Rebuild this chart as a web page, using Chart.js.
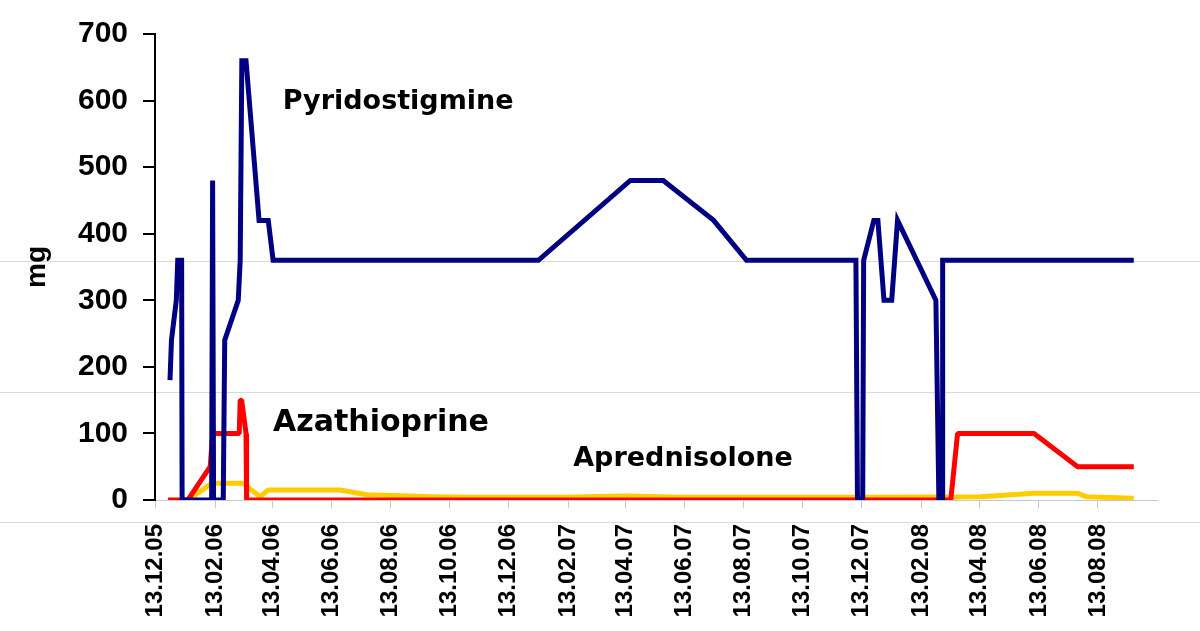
<!DOCTYPE html>
<html>
<head>
<meta charset="utf-8">
<title>Dose chart</title>
<script src="https://cdn.jsdelivr.net/npm/chart.js@4.4.0/dist/chart.umd.min.js"></script>
<style>
    body { margin: 0; background: #ffffff; }
    #wrap { width: 1200px; height: 631px; position: relative; }
</style>
</head>
<body>
<div id="wrap"><canvas id="doseChart"></canvas></div>
<script>
// all x values are days counted from the first date (13.12.05)
var startDate = '13.12.05';
var endDate = '13.10.08';
var tickLabels = ['13.12.05', '13.02.06', '13.04.06', '13.06.06', '13.08.06', '13.10.06',
    '13.12.06', '13.02.07', '13.04.07', '13.06.07', '13.08.07', '13.10.07', '13.12.07',
    '13.02.08', '13.04.08', '13.06.08', '13.08.08'];

var pyridostigmineDays = [15.5, 17, 22, 23.5, 27.5, 28, 58.5, 59.5, 60.5, 70.5, 72, 86, 88, 89.7, 94,
    107.5, 117, 122, 396, 491, 525, 577, 611, 724, 725.6, 731, 732, 742.5, 746.7, 753, 761, 767,
    806.6, 809.7, 813, 813.6, 1011];
var pyridostigmineMg = [180, 240, 300, 360, 360, 0, 0, 480, 0, 0, 240, 300, 360, 660, 660,
    420, 420, 360, 360, 480, 480, 420, 360, 360, 0, 0, 360, 420, 420, 300, 300, 420,
    300, 0, 0, 360, 360];

var azathioprineDays = [13.5, 34, 57, 59.7, 87, 88, 89.5, 94, 94.6, 822, 829, 908, 953, 1011];
var azathioprineMg = [0, 0, 50, 100, 100, 150, 150, 100, 0, 0, 100, 100, 50, 50];

var aprednisoloneDays = [34, 58.6, 91, 108.6, 117, 191, 219, 287, 326, 419, 488, 543, 729, 853,
    908, 953, 962, 1011];
var aprednisoloneMg = [0, 25, 25, 5, 15, 15, 8, 5, 4, 4, 6, 4, 4, 5, 10, 10, 5, 2.5];

/*
 * Turn a dd.mm.yy string into days since startDate
 */
function dayOf(s) {
    var p = s.split('.');
    var s0 = startDate.split('.');
    var d = Date.UTC(2000 + Number(p[2]), Number(p[1]) - 1, Number(p[0]));
    var d0 = Date.UTC(2000 + Number(s0[2]), Number(s0[1]) - 1, Number(s0[0]));
    return Math.round((d - d0) / 86400000);
}

function toPoints(days, values) {
    var pts = [];
    for (var i = 0; i < days.length; i++) {
        pts.push({ x: days[i], y: values[i] });
    }
    return pts;
}

var tickDays = tickLabels.map(dayOf);

// names written inside the plot, placed in data units
var seriesNotes = [
    { text: 'Pyridostigmine', day: 132, mg: 598, size: 27 },
    { text: 'Azathioprine', day: 122, mg: 116, size: 30 },
    { text: 'Aprednisolone', day: 432, mg: 62, size: 27 }
];

var notesPlugin = {
    id: 'notes',
    beforeDraw: function(chart) {
        // faint scan lines that run across the original picture
        var ctx = chart.ctx;
        ctx.save();
        ctx.strokeStyle = '#d9d9d9';
        ctx.lineWidth = 1;
        [261.5, 392.5, 522.5].forEach(function(y) {
            ctx.beginPath();
            ctx.moveTo(0, y);
            ctx.lineTo(chart.width, y);
            ctx.stroke();
        });
        ctx.restore();
    },
    afterDatasetsDraw: function(chart) {
        var ctx = chart.ctx;
        var xs = chart.scales.x;
        var ys = chart.scales.y;
        ctx.save();
        ctx.fillStyle = '#000000';
        ctx.textAlign = 'left';
        ctx.textBaseline = 'middle';
        seriesNotes.forEach(function(n) {
            ctx.font = 'bold ' + n.size + 'px "DejaVu Sans", Verdana, sans-serif';
            ctx.fillText(n.text, xs.getPixelForValue(n.day), ys.getPixelForValue(n.mg));
        });
        ctx.restore();
    }
};

var ctx = document.getElementById('doseChart').getContext('2d');
var chart = new Chart(ctx, {
    type: 'line',
    data: {
        datasets: [{
            label: 'Pyridostigmine',
            data: toPoints(pyridostigmineDays, pyridostigmineMg),
            borderColor: '#000080',
            borderWidth: 5,
            borderJoinStyle: 'miter',
            order: 1
        }, {
            label: 'Azathioprine',
            data: toPoints(azathioprineDays, azathioprineMg),
            borderColor: '#ff0000',
            borderWidth: 5,
            borderJoinStyle: 'bevel',
            order: 2
        }, {
            label: 'Aprednisolone',
            data: toPoints(aprednisoloneDays, aprednisoloneMg),
            borderColor: '#ffcc00',
            borderWidth: 5,
            borderJoinStyle: 'round',
            order: 3
        }]
    },
    options: {
        responsive: true,
        maintainAspectRatio: false,
        animation: false,
        elements: {
            point: { radius: 0 },
            line: { tension: 0, fill: false }
        },
        layout: {
            padding: { top: 34, right: 43, bottom: 0, left: 0 }
        },
        plugins: {
            legend: { display: false },
            tooltip: { enabled: false }
        },
        scales: {
            x: {
                type: 'linear',
                min: 0,
                max: dayOf(endDate),
                afterFit: function(scale) { scale.height = 131; },
                afterBuildTicks: function(scale) {
                    scale.ticks = tickDays.map(function(d) { return { value: d }; });
                },
                border: { color: '#c8c8c8', width: 1 },
                grid: {
                    drawOnChartArea: false,
                    drawTicks: true,
                    tickLength: 8,
                    color: '#c8c8c8'
                },
                ticks: {
                    autoSkip: false,
                    minRotation: 90,
                    maxRotation: 90,
                    padding: 16,
                    color: '#000000',
                    font: { family: '"Liberation Sans", Arial, sans-serif', size: 24, weight: 'bold' },
                    callback: function(value) {
                        var i = tickDays.indexOf(value);
                        return i >= 0 ? tickLabels[i] : '';
                    }
                }
            },
            y: {
                min: 0,
                max: 700,
                afterFit: function(scale) { scale.width = 155; },
                border: { color: '#000000', width: 2 },
                grid: {
                    drawOnChartArea: false,
                    drawTicks: true,
                    tickLength: 12,
                    lineWidth: 2,
                    color: '#000000'
                },
                ticks: {
                    stepSize: 100,
                    padding: 15,
                    color: '#000000',
                    font: { family: '"Liberation Sans", Arial, sans-serif', size: 30, weight: 'bold' }
                },
                title: {
                    display: true,
                    text: 'mg',
                    color: '#000000',
                    padding: { top: 20, bottom: 0 },
                    font: { family: '"Liberation Sans", Arial, sans-serif', size: 28, weight: 'bold' }
                }
            }
        }
    },
    plugins: [notesPlugin]
});
</script>
</body>
</html>
